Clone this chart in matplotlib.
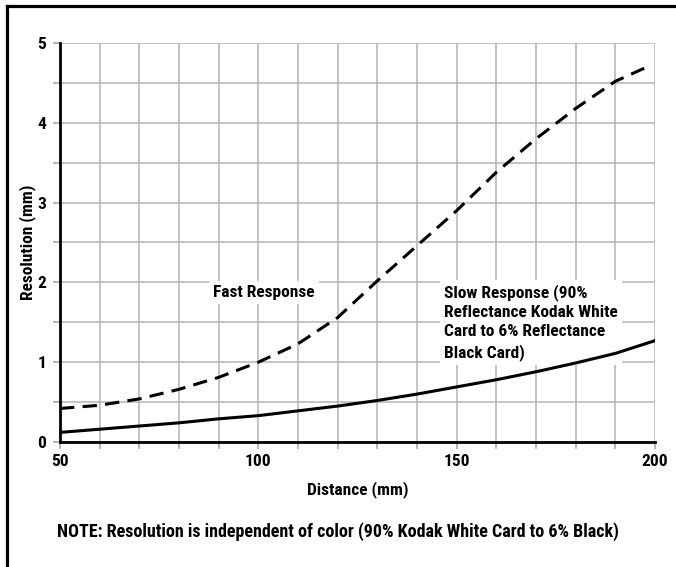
import matplotlib
matplotlib.use('Agg')
import matplotlib.pyplot as plt
import matplotlib.font_manager as fm
from matplotlib.lines import Line2D

# a condensed sans, like the original artwork
installed = {f.name for f in fm.fontManager.ttflist}
for name in ['Roboto Condensed', 'Archivo Narrow', 'PT Sans Narrow', 'Liberation Sans Narrow',
             'Saira SemiCondensed', 'Liberation Sans']:
    if name in installed:
        font = name
        break
plt.rcParams['font.family'] = [font, 'DejaVu Sans']
plt.rcParams['font.weight'] = 'bold'

# distance (mm) and resolution (mm)
fast_x = [50, 60, 70, 80, 90, 100, 110, 120, 130, 140, 150, 160, 170, 180, 190, 198]
fast_y = [0.42, 0.46, 0.54, 0.66, 0.81, 1.0, 1.23, 1.56, 2.02, 2.46, 2.9, 3.38, 3.8, 4.18, 4.52, 4.70]
slow_x = [50, 60, 70, 80, 90, 100, 110, 120, 130, 140, 150, 160, 170, 180, 190, 200]
slow_y = [0.12, 0.16, 0.2, 0.24, 0.29, 0.33, 0.39, 0.45, 0.52, 0.60, 0.69, 0.78, 0.88, 0.99, 1.11, 1.27]

x_ticks = [50, 100, 150, 200]
y_ticks = [0, 1, 2, 3, 4, 5]

fs = 12.5

fig = plt.figure(figsize=(6.76, 5.67), dpi=100)
ax = fig.add_axes([0.0888, 0.2205, 0.8802, 0.7037])

ax.plot(fast_x, fast_y, color='black', linewidth=2.2, linestyle=(0, (4.7, 2.7)))
ax.plot(slow_x, slow_y, color='black', linewidth=2.2)

ax.set_xlim(50, 200)
ax.set_ylim(0, 5)
ax.set_xticks(x_ticks)
ax.set_yticks(y_ticks)
ax.set_xticks(range(50, 201, 10), minor=True)
ax.set_yticks([i * 0.5 for i in range(11)], minor=True)
ax.grid(True, which='both', color='#b4b4b4', linewidth=1.1)
ax.set_axisbelow(True)
ax.tick_params(which='both', color='#a0a0a0', length=5, width=1.1)
ax.tick_params(axis='x', labelsize=fs, pad=4)
ax.tick_params(axis='y', labelsize=fs, pad=5)

for s in ['top', 'right']:
    ax.spines[s].set_visible(False)
for s in ['left', 'bottom']:
    ax.spines[s].set_linewidth(2)

ax.set_xlabel('Distance (mm)', fontsize=fs, fontweight='bold', va='center')
ax.set_ylabel('Resolution (mm)', fontsize=fs, fontweight='bold', va='center')
ax.xaxis.set_label_coords(0.5, -0.118)
ax.yaxis.set_label_coords(-0.054, 0.5)

box = dict(facecolor='white', edgecolor='none', pad=3)
ax.text(88.6, 1.82, 'Fast Response', fontsize=fs, fontweight='bold',
        va='baseline', bbox=box, zorder=1.5)
# baseline of a multi-line text is that of its last line
ax.text(146.9, 1.065, 'Slow Response (90%\nReflectance Kodak White\nCard to 6% Reflectance\nBlack Card)',
        fontsize=fs, fontweight='bold', va='baseline', linespacing=1.35, bbox=box, zorder=1.5)

fig.text(0.5, 0.0617, 'NOTE: Resolution is independent of color (90% Kodak White Card to 6% Black)',
         fontsize=13, fontweight='bold', ha='center', va='center')

# frame around the chart (top and left edges)
fig.add_artist(Line2D([0.0104, 1.0], [0.9894, 0.9894], color='black', linewidth=2.3, transform=fig.transFigure))
fig.add_artist(Line2D([0.0104, 0.0104], [0.0, 0.9894], color='black', linewidth=2.3, transform=fig.transFigure))

fig.savefig('out.png', dpi=100)
